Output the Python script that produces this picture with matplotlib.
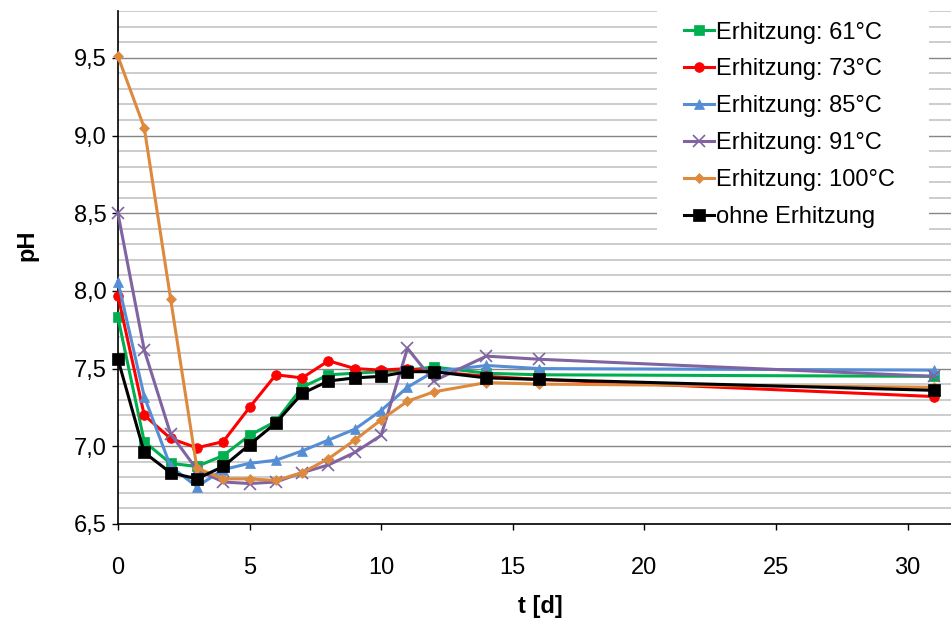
# -*- coding: utf-8 -*-
# pH-Verlauf bei verschiedenen Erhitzungstemperaturen
import matplotlib
matplotlib.use("Agg")
import matplotlib.pyplot as plt
from matplotlib.ticker import MultipleLocator, FuncFormatter
from matplotlib.patches import Rectangle

plt.rcParams['font.family'] = ['Liberation Sans', 'DejaVu Sans']

# Daten
t = [0, 1, 2, 3, 4, 5, 6, 7, 8, 9, 10, 11, 12, 14, 16, 31]
ph_61 = [7.83, 7.03, 6.89, 6.87, 6.94, 7.07, 7.16, 7.38, 7.46, 7.47, 7.48, 7.49, 7.51, 7.47, 7.46, 7.45]
ph_73 = [7.97, 7.20, 7.05, 6.99, 7.03, 7.25, 7.46, 7.44, 7.55, 7.50, 7.49, 7.50, 7.48, 7.45, 7.43, 7.32]
ph_85 = [8.06, 7.32, 6.87, 6.74, 6.85, 6.89, 6.91, 6.97, 7.04, 7.11, 7.23, 7.38, 7.48, 7.52, 7.50, 7.49]
ph_91 = [8.50, 7.62, 7.08, 6.85, 6.77, 6.76, 6.77, 6.83, 6.88, 6.96, 7.07, 7.63, 7.42, 7.58, 7.56, 7.45]
ph_100 = [9.51, 9.05, 7.95, 6.86, 6.79, 6.79, 6.78, 6.83, 6.92, 7.04, 7.17, 7.29, 7.35, 7.41, 7.40, 7.38]
ph_ohne = [7.56, 6.96, 6.83, 6.79, 6.87, 7.01, 7.15, 7.34, 7.42, 7.44, 7.45, 7.48, 7.48, 7.44, 7.43, 7.36]

labels = ["Erhitzung: 61°C", "Erhitzung: 73°C", "Erhitzung: 85°C",
          "Erhitzung: 91°C", "Erhitzung: 100°C", "ohne Erhitzung"]
serien = [ph_61, ph_73, ph_85, ph_91, ph_100, ph_ohne]
farben = ["#00B050", "#FF0000", "#558ED5", "#8064A2", "#DD8A3E", "#000000"]
marker = ["s", "o", "^", "x", "D", "s"]
msize = [7, 7, 7, 8, 5.5, 8.5]

fig = plt.figure(figsize=(9.51, 6.23), dpi=100)
ax = fig.add_axes([0.124, 0.159, 0.876, 0.823])

for y, lab, c, m, ms in zip(serien, labels, farben, marker, msize):
    ax.plot(t, y, color=c, marker=m, markersize=ms, linewidth=2.2,
            label=lab, clip_on=False, zorder=3,
            markeredgewidth=1.2 if m == "x" else 0.5)

ax.set_xlim(0, 31.65)
ax.set_ylim(6.5, 9.8)
ax.xaxis.set_major_locator(MultipleLocator(5))
ax.yaxis.set_major_locator(MultipleLocator(0.5))
ax.yaxis.set_minor_locator(MultipleLocator(0.1))
ax.yaxis.set_major_formatter(FuncFormatter(lambda v, p: "{:.1f}".format(v).replace(".", ",")))

ax.grid(axis="y", which="major", color="#868686", linewidth=1.0, zorder=0)
ax.grid(axis="y", which="minor", color="#C8C8C8", linewidth=1.3, zorder=0)
ax.set_axisbelow(True)

for s in ["top", "right"]:
    ax.spines[s].set_visible(False)
ax.spines["left"].set_linewidth(1.2)
ax.spines["bottom"].set_linewidth(1.2)

ax.tick_params(axis="both", which="major", labelsize=17, direction="out", length=4.5, width=1)
ax.tick_params(axis="x", pad=19)
ax.tick_params(axis="y", which="minor", length=0)

ax.set_xlabel("t [d]", fontsize=17, fontweight="bold")
ax.set_ylabel("pH", fontsize=17, fontweight="bold")
ax.xaxis.set_label_coords(0.507, -0.138)
ax.yaxis.set_label_coords(-0.095, 0.544)

# weisser Hintergrund der Legende
W, H = 951.0, 623.0
bg = Rectangle((657 / W, 1 - 235 / H), (929 - 657) / W, 235 / H,
               transform=fig.transFigure, facecolor="white", edgecolor="none", zorder=2)
ax.add_patch(bg)

leg = ax.legend(loc="upper left", bbox_to_anchor=(684 / W, 1 - 21.5 / H),
                bbox_transform=fig.transFigure, fontsize=17, frameon=False,
                handlelength=1.25, handletextpad=0.1, labelspacing=0.63,
                borderpad=0.0, borderaxespad=0.0)
leg.set_zorder(5)

fig.savefig("out.png", dpi=100)
